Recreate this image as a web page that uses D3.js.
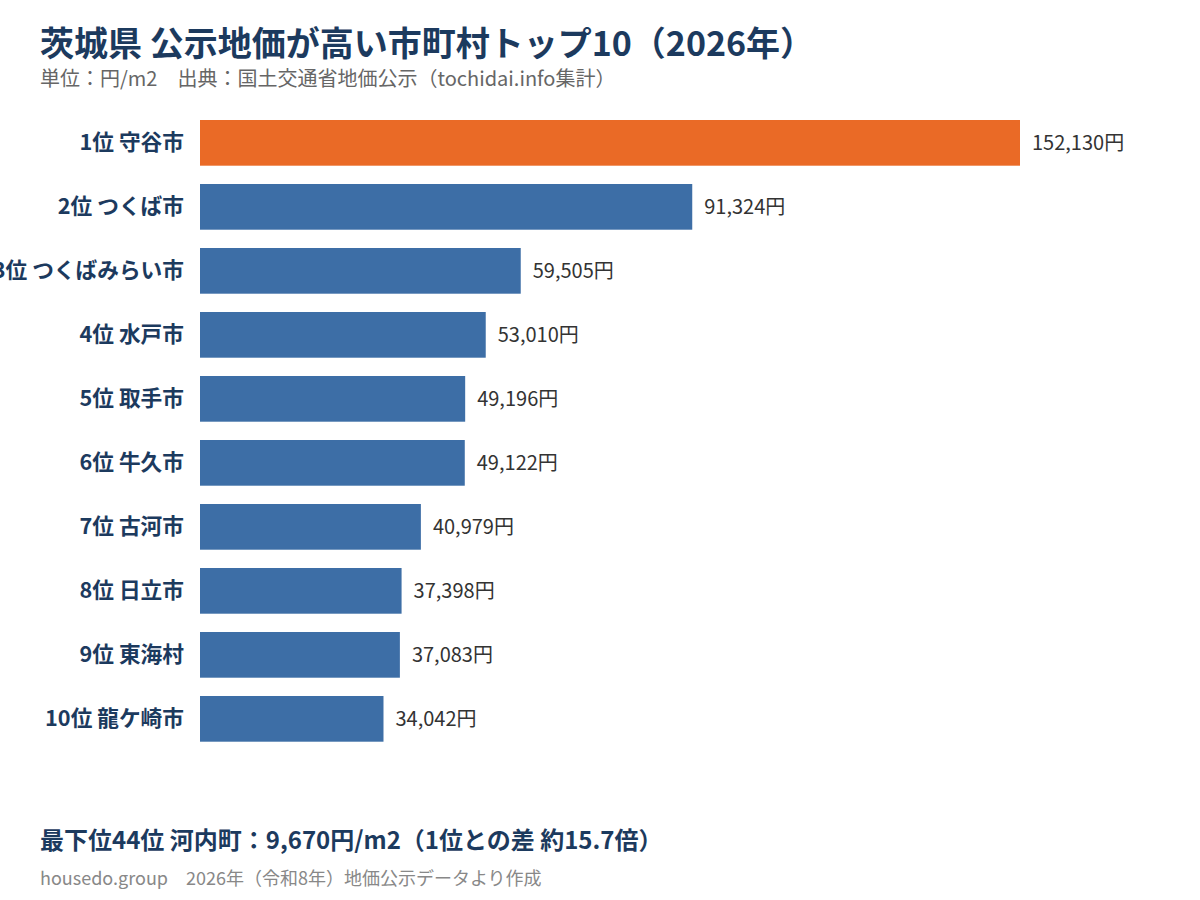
<!DOCTYPE html>
<html><head><meta charset="utf-8">
<script src="https://cdn.jsdelivr.net/npm/d3@7"></script>
<style>
html,body{margin:0;padding:0;background:#fff;}
text{font-family:"Noto Sans CJK JP","Noto Sans",sans-serif;}
</style></head>
<body>
<svg id="chart" width="1200" height="900"></svg>
<script>
const titleText = "茨城県 公示地価が高い市町村トップ10（2026年）";
const subtitleText = "単位：円/m2　出典：国土交通省地価公示（tochidai.info集計）";
const noteText = "最下位44位 河内町：9,670円/m2（1位との差 約15.7倍）";
const sourceText = "housedo.group　2026年（令和8年）地価公示データより作成";
const categories = ["1位 守谷市","2位 つくば市","3位 つくばみらい市","4位 水戸市","5位 取手市","6位 牛久市","7位 古河市","8位 日立市","9位 東海村","10位 龍ケ崎市"];
const values = [152130, 91324, 59505, 53010, 49196, 49122, 40979, 37398, 37083, 34042];

const data = categories.map((c,i)=>({cat:c, val:values[i], i}));
const svg = d3.select("#chart");
svg.append("rect").attr("width",1200).attr("height",900).attr("fill","#fff");

const x = d3.scaleLinear().domain([0, d3.max(values)]).range([200, 1020]);
const y = d3.scaleBand().domain(categories).range([120, 741.7]).paddingInner(0.286).paddingOuter(0);

svg.append("text").attr("x",40).attr("y",56).attr("font-size",34).attr("font-weight",700).attr("fill","#1c3a5e").text(titleText);
svg.append("text").attr("x",40).attr("y",86).attr("font-size",20).attr("fill","#666").text(subtitleText);

svg.selectAll("rect.bar").data(data).join("rect").attr("class","bar")
  .attr("x", x(0)).attr("y", d=>y(d.cat)).attr("width", d=>x(d.val)-x(0)).attr("height", y.bandwidth())
  .attr("fill", d=>d.i===0 ? "#ea6a26" : "#3d6ea6");

svg.selectAll("text.cat").data(data).join("text").attr("class","cat")
  .attr("x", 184).attr("y", d=>y(d.cat)+y.bandwidth()/2).attr("dy","0.35em")
  .attr("text-anchor","end").attr("font-size",21.7).attr("font-weight",700).attr("fill","#1c3a5e")
  .text(d=>d.cat);

const fmt = d3.format(",");
svg.selectAll("text.val").data(data).join("text").attr("class","val")
  .attr("x", d=>x(d.val)+12).attr("y", d=>y(d.cat)+y.bandwidth()/2).attr("dy","0.35em")
  .attr("font-size",20).attr("fill","#333")
  .text(d=>fmt(d.val)+"円");

svg.append("text").attr("x",40).attr("y",849).attr("font-size",24).attr("font-weight",700).attr("fill","#1c3a5e").text(noteText);
svg.append("text").attr("x",40).attr("y",885).attr("font-size",18).attr("fill","#888").text(sourceText);
</script>
</body></html>
